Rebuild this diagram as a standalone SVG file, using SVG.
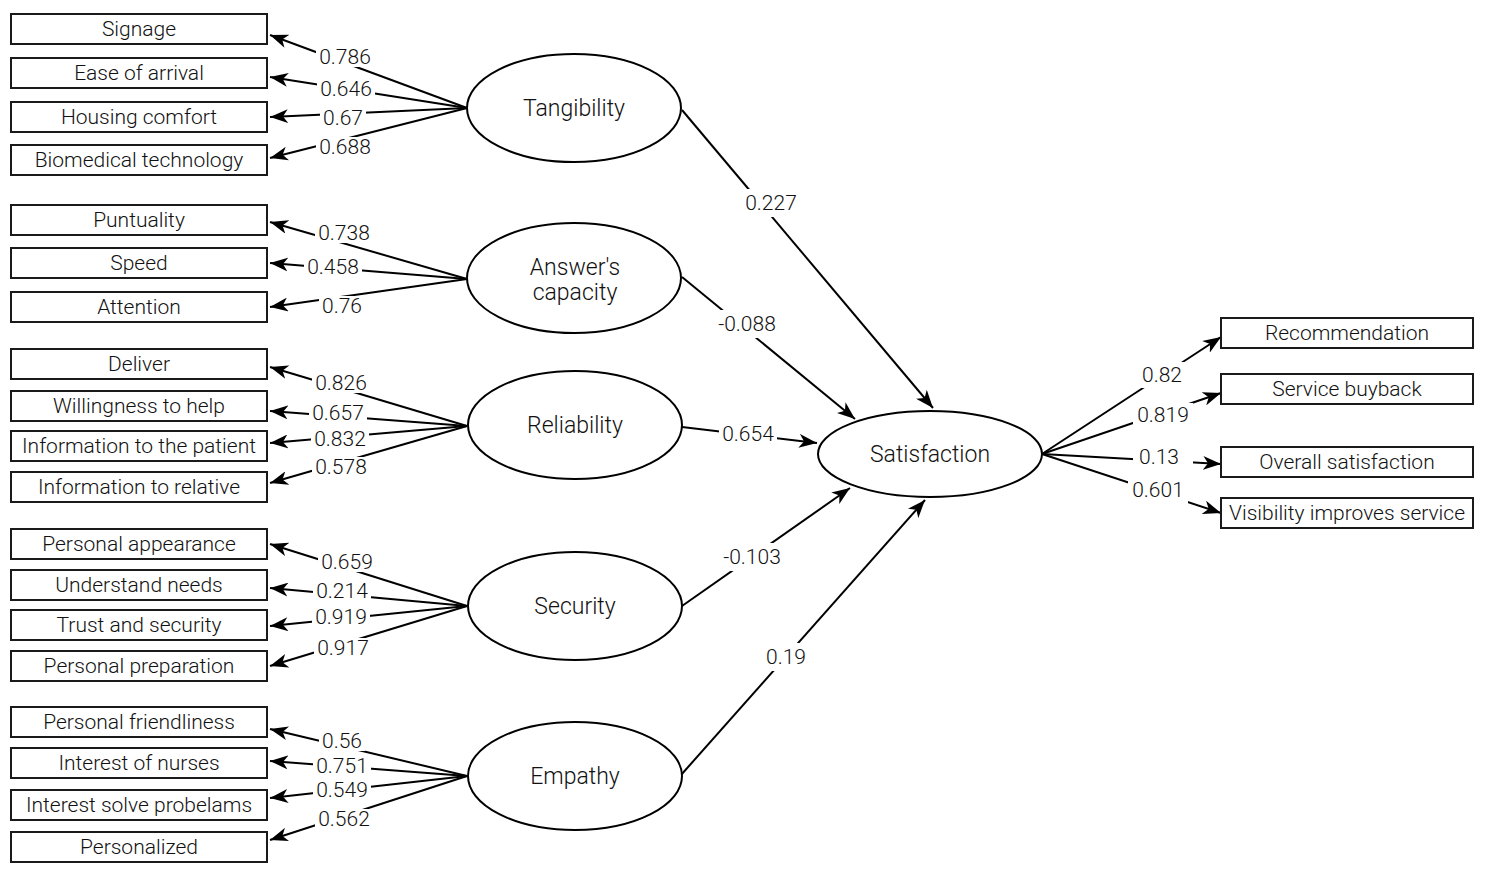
<svg xmlns="http://www.w3.org/2000/svg" width="1490" height="877" viewBox="0 0 1490 877">
<style>
.box{fill:#fff;stroke:#1a1a1a;stroke-width:2}
.lat{fill:#fff;stroke:#000;stroke-width:2}
.t{font-family:Roboto,"Liberation Sans",sans-serif;font-weight:300;font-size:21px;fill:#111;text-anchor:middle}
.tl{font-family:Roboto,"Liberation Sans",sans-serif;font-weight:300;font-size:23px;fill:#111;text-anchor:middle}
.c{fill:none;stroke:#000;stroke-width:2;marker-end:url(#ah)}
.lb{fill:#fff;stroke:none}
.n{font-family:Roboto,"Liberation Sans",sans-serif;font-weight:300;font-size:21px;fill:#111;text-anchor:middle}
</style>
<defs>
<marker id="ah" viewBox="0 0 18 14" refX="18" refY="7" markerWidth="18" markerHeight="14" markerUnits="userSpaceOnUse" orient="auto">
<path d="M0,0 L18,7 L0,14 L5,7 z" fill="#000"/>
</marker>
</defs>
<rect width="1490" height="877" fill="#fff"/>

<g id="connectors">
<path class="c" d="M467,108 L270,35"/>
<path class="c" d="M467,108 L270,77"/>
<path class="c" d="M467,108 L270,117"/>
<path class="c" d="M467,108 L270,158"/>
<path class="c" d="M467,279 L270,222"/>
<path class="c" d="M467,279 L270,263"/>
<path class="c" d="M467,279 L270,307"/>
<path class="c" d="M467,426 L270,367"/>
<path class="c" d="M467,426 L270,411"/>
<path class="c" d="M467,426 L270,443"/>
<path class="c" d="M467,426 L270,483"/>
<path class="c" d="M467,606 L270,544"/>
<path class="c" d="M467,606 L270,588"/>
<path class="c" d="M467,606 L270,626"/>
<path class="c" d="M467,606 L270,666"/>
<path class="c" d="M467,776 L270,729"/>
<path class="c" d="M467,776 L270,761"/>
<path class="c" d="M467,776 L270,798"/>
<path class="c" d="M467,776 L270,840"/>
<path class="c" d="M682,110 L933,408"/>
<path class="c" d="M682,277 L855,419"/>
<path class="c" d="M682,427 L817,443"/>
<path class="c" d="M682,606 L850,488"/>
<path class="c" d="M681,775 L925,500"/>
<path class="c" d="M1042,454 L1221,337"/>
<path class="c" d="M1042,454 L1221,393"/>
<path class="c" d="M1042,454 L1221,464"/>
<path class="c" d="M1042,454 L1221,513"/>
<g id="label-bg">
<rect class="lb" x="316" y="47" width="58" height="20"/>
<rect class="lb" x="317" y="79" width="58" height="20"/>
<rect class="lb" x="320" y="108" width="46" height="20"/>
<rect class="lb" x="316" y="137" width="58" height="20"/>
<rect class="lb" x="315" y="223" width="58" height="20"/>
<rect class="lb" x="304" y="257" width="58" height="20"/>
<rect class="lb" x="319" y="296" width="46" height="20"/>
<rect class="lb" x="312" y="373" width="58" height="20"/>
<rect class="lb" x="309" y="403" width="58" height="20"/>
<rect class="lb" x="311" y="429" width="58" height="20"/>
<rect class="lb" x="312" y="457" width="58" height="20"/>
<rect class="lb" x="318" y="552" width="58" height="20"/>
<rect class="lb" x="313" y="581" width="58" height="20"/>
<rect class="lb" x="312" y="607" width="58" height="20"/>
<rect class="lb" x="314" y="638" width="58" height="20"/>
<rect class="lb" x="319" y="731" width="46" height="20"/>
<rect class="lb" x="313" y="756" width="58" height="20"/>
<rect class="lb" x="313" y="780" width="58" height="20"/>
<rect class="lb" x="315" y="809" width="58" height="20"/>
<rect class="lb" x="741" y="189" width="60" height="28"/>
<rect class="lb" x="714" y="310" width="66" height="28"/>
<rect class="lb" x="719" y="424" width="58" height="20"/>
<rect class="lb" x="719" y="543" width="66" height="28"/>
<rect class="lb" x="762" y="643" width="48" height="28"/>
<rect class="lb" x="1138" y="362" width="48" height="26"/>
<rect class="lb" x="1133" y="403" width="60" height="24"/>
<rect class="lb" x="1133" y="447" width="60" height="20"/>
<rect class="lb" x="1128" y="478" width="60" height="26"/>
</g>
<text class="n" x="345" y="64">0.786</text>
<text class="n" x="346" y="96">0.646</text>
<text class="n" x="343" y="125">0.67</text>
<text class="n" x="345" y="154">0.688</text>
<text class="n" x="344" y="240">0.738</text>
<text class="n" x="333" y="274">0.458</text>
<text class="n" x="342" y="313">0.76</text>
<text class="n" x="341" y="390">0.826</text>
<text class="n" x="338" y="420">0.657</text>
<text class="n" x="340" y="446">0.832</text>
<text class="n" x="341" y="474">0.578</text>
<text class="n" x="347" y="569">0.659</text>
<text class="n" x="342" y="598">0.214</text>
<text class="n" x="341" y="624">0.919</text>
<text class="n" x="343" y="655">0.917</text>
<text class="n" x="342" y="748">0.56</text>
<text class="n" x="342" y="773">0.751</text>
<text class="n" x="342" y="797">0.549</text>
<text class="n" x="344" y="826">0.562</text>
<text class="n" x="771" y="210">0.227</text>
<text class="n" x="747" y="331">-0.088</text>
<text class="n" x="748" y="441">0.654</text>
<text class="n" x="752" y="564">-0.103</text>
<text class="n" x="786" y="664">0.19</text>
<text class="n" x="1162" y="382">0.82</text>
<text class="n" x="1163" y="422">0.819</text>
<text class="n" x="1159" y="464">0.13</text>
<text class="n" x="1158" y="497">0.601</text>
</g>

<g id="signage"><rect class="box" x="11" y="14" width="256" height="30"/><text class="t" x="139" y="36">Signage</text></g>
<g id="ease-of-arrival"><rect class="box" x="11" y="58" width="256" height="30"/><text class="t" x="139" y="80">Ease of arrival</text></g>
<g id="housing-comfort"><rect class="box" x="11" y="102" width="256" height="30"/><text class="t" x="139" y="124">Housing comfort</text></g>
<g id="biomedical-technology"><rect class="box" x="11" y="145" width="256" height="30"/><text class="t" x="139" y="167">Biomedical technology</text></g>
<g id="puntuality"><rect class="box" x="11" y="205" width="256" height="30"/><text class="t" x="139" y="227">Puntuality</text></g>
<g id="speed"><rect class="box" x="11" y="248" width="256" height="30"/><text class="t" x="139" y="270">Speed</text></g>
<g id="attention"><rect class="box" x="11" y="292" width="256" height="30"/><text class="t" x="139" y="314">Attention</text></g>
<g id="deliver"><rect class="box" x="11" y="349" width="256" height="30"/><text class="t" x="139" y="371">Deliver</text></g>
<g id="willingness-to-help"><rect class="box" x="11" y="391" width="256" height="30"/><text class="t" x="139" y="413">Willingness to help</text></g>
<g id="information-to-the-patient"><rect class="box" x="11" y="431" width="256" height="30"/><text class="t" x="139" y="453">Information to the patient</text></g>
<g id="information-to-relative"><rect class="box" x="11" y="472" width="256" height="30"/><text class="t" x="139" y="494">Information to relative</text></g>
<g id="personal-appearance"><rect class="box" x="11" y="529" width="256" height="30"/><text class="t" x="139" y="551">Personal appearance</text></g>
<g id="understand-needs"><rect class="box" x="11" y="570" width="256" height="30"/><text class="t" x="139" y="592">Understand needs</text></g>
<g id="trust-and-security"><rect class="box" x="11" y="610" width="256" height="30"/><text class="t" x="139" y="632">Trust and security</text></g>
<g id="personal-preparation"><rect class="box" x="11" y="651" width="256" height="30"/><text class="t" x="139" y="673">Personal preparation</text></g>
<g id="personal-friendliness"><rect class="box" x="11" y="707" width="256" height="30"/><text class="t" x="139" y="729">Personal friendliness</text></g>
<g id="interest-of-nurses"><rect class="box" x="11" y="748" width="256" height="30"/><text class="t" x="139" y="770">Interest of nurses</text></g>
<g id="interest-solve-probelams"><rect class="box" x="11" y="790" width="256" height="30"/><text class="t" x="139" y="812">Interest solve probelams</text></g>
<g id="personalized"><rect class="box" x="11" y="832" width="256" height="30"/><text class="t" x="139" y="854">Personalized</text></g>

<g id="tangibility"><ellipse class="lat" cx="574" cy="108" rx="107" ry="54"/><text class="tl" x="574" y="116">Tangibility</text></g>
<g id="answers-capacity"><ellipse class="lat" cx="574" cy="278" rx="107" ry="55"/><text class="tl" x="575" y="275">Answer's</text><text class="tl" x="575" y="300">capacity</text></g>
<g id="reliability"><ellipse class="lat" cx="575" cy="425" rx="107" ry="54"/><text class="tl" x="575" y="433">Reliability</text></g>
<g id="security"><ellipse class="lat" cx="575" cy="606" rx="107" ry="54"/><text class="tl" x="575" y="614">Security</text></g>
<g id="empathy"><ellipse class="lat" cx="575" cy="776" rx="107" ry="54"/><text class="tl" x="575" y="784">Empathy</text></g>
<g id="satisfaction"><ellipse class="lat" cx="930" cy="454" rx="112" ry="43"/><text class="tl" x="930" y="462">Satisfaction</text></g>

<g id="recommendation"><rect class="box" x="1221" y="318" width="252" height="30"/><text class="t" x="1347" y="340">Recommendation</text></g>
<g id="service-buyback"><rect class="box" x="1221" y="374" width="252" height="30"/><text class="t" x="1347" y="396">Service buyback</text></g>
<g id="overall-satisfaction"><rect class="box" x="1221" y="447" width="252" height="30"/><text class="t" x="1347" y="469">Overall satisfaction</text></g>
<g id="visibility-improves-service"><rect class="box" x="1221" y="498" width="252" height="30"/><text class="t" x="1347" y="520">Visibility improves service</text></g>
</svg>
